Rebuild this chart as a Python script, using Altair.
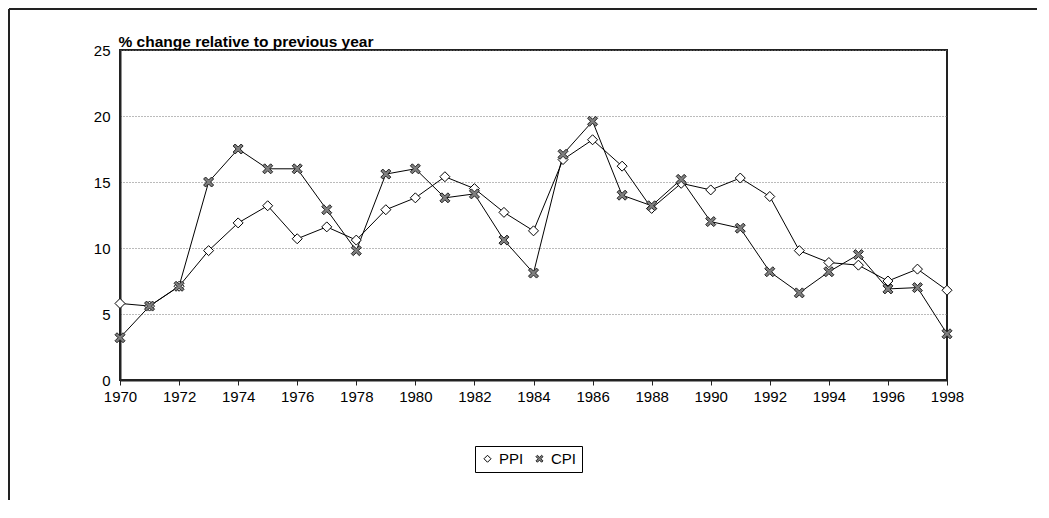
import altair as alt
import pandas as pd

years = list(range(1970, 1999))
ppi = [5.8, 5.6, 7.1, 9.8, 11.9, 13.2, 10.7, 11.6, 10.6,
       12.9, 13.8, 15.4, 14.5, 12.7, 11.3, 16.7, 18.2, 16.2, 13.0,
       14.9, 14.4, 15.3, 13.9, 9.8, 8.9, 8.7, 7.5, 8.4, 6.8]
cpi = [3.2, 5.6, 7.1, 15.0, 17.5, 16.0, 16.0, 12.9, 9.8,
       15.6, 16.0, 13.8, 14.1, 10.6, 8.1, 17.1, 19.6, 14.0, 13.2,
       15.2, 12.0, 11.5, 8.2, 6.6, 8.2, 9.5, 6.9, 7.0, 3.5]
series_names = ["PPI", "CPI"]
x_ticks = list(range(1970, 1999, 2))
y_ticks = [0, 5, 10, 15, 20, 25]
y_title = "% change relative to previous year"

df = pd.DataFrame({
    "year": years * 2,
    "value": ppi + cpi,
    "series": ["PPI"] * len(years) + ["CPI"] * len(years),
})

XPATH = "M-1,-0.6L-0.6,-1L0,-0.4L0.6,-1L1,-0.6L0.4,0L1,0.6L0.6,1L0,0.4L-0.6,1L-1,0.6L-0.4,0Z"

x_enc = alt.X("year:Q",
              scale=alt.Scale(domain=[1970, 1998], nice=False, zero=False),
              axis=alt.Axis(values=x_ticks, format="d", title=None, tickSize=5,
                            labelPadding=4, grid=False, domainWidth=2,
                            domainColor="#222", tickColor="#222",
                            labelFlush=False, labelOverlap=False,
                            labelFontSize=15, labelColor="black"))
y_enc = alt.Y("value:Q",
              scale=alt.Scale(domain=[0, 25], nice=False),
              axis=alt.Axis(values=y_ticks, tickSize=0, labelPadding=10,
                            grid=True, gridDash=[1, 2], gridColor="#777",
                            gridWidth=1, domainWidth=2, domainColor="#222",
                            labelFontSize=15, labelColor="black",
                            title=y_title, titleAngle=0, titleAlign="left",
                            titleBaseline="alphabetic", titleX=-2, titleY=-4,
                            titleFontWeight="bold", titleFontSize=15.5,
                            titleColor="black"))

legend = alt.Legend(title=None, orient="none", legendX=355, legendY=396,
                    direction="horizontal", strokeColor="black", padding=5,
                    symbolSize=49, symbolStrokeWidth=1, labelFontSize=15,
                    labelColor="black", columnPadding=8, labelOffset=4)

stroke_scale = alt.Scale(domain=series_names, range=["black", "#222"])

base = alt.Chart(df)
lines = base.mark_line(color="black", strokeWidth=1).encode(
    x=x_enc, y=y_enc, detail="series:N")
points = base.mark_point(filled=True, size=100, strokeWidth=1, opacity=1,
                         fillOpacity=1).encode(
    x=x_enc, y=y_enc,
    shape=alt.Shape("series:N",
                    scale=alt.Scale(domain=series_names, range=["diamond", XPATH]),
                    legend=legend),
    fill=alt.Fill("series:N",
                  scale=alt.Scale(domain=series_names, range=["white", "#7f7f7f"]),
                  legend=legend),
    stroke=alt.Stroke("series:N", scale=stroke_scale, legend=legend),
)

one = pd.DataFrame({"a": [0]})
frame_top = alt.Chart(one).mark_rule(color="#222", strokeWidth=2).encode(
    x=alt.value(-111), x2=alt.value(930), y=alt.value(-41))
frame_left = alt.Chart(one).mark_rule(color="#222", strokeWidth=2).encode(
    x=alt.value(-111), y=alt.value(-41), y2=alt.value(470))

chart = alt.layer(lines, points, frame_top, frame_left).properties(
    width=827, height=330,
    autosize=alt.AutoSizeParams(type="none"),
    padding={"left": 112, "top": 42, "right": 90, "bottom": 120},
).configure(font="Liberation Sans").configure_view(stroke="#222", strokeWidth=2)

chart.save("out.html", embed_options={"renderer": "svg", "actions": False})
